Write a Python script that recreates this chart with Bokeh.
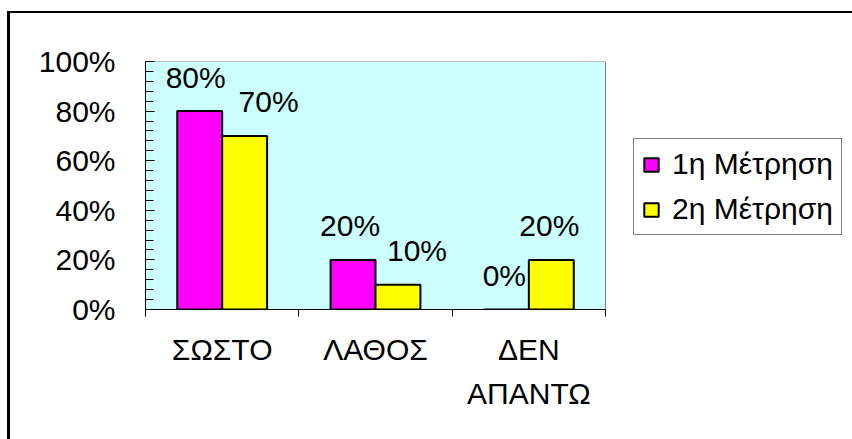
from bokeh.plotting import figure
from bokeh.models import (Range1d, LinearAxis, FixedTicker,
                          SingleIntervalTicker, NumeralTickFormatter, Legend, LegendItem,
                          ColumnDataSource, CustomJSTickFormatter, InlineStyleSheet)
from bokeh.core.properties import value
from bokeh.embed import file_html
from bokeh.resources import INLINE

# ---- data -------------------------------------------------------------
categories = ["ΣΩΣΤΟ", "ΛΑΘΟΣ", "ΔΕΝ ΑΠΑΝΤΩ"]
category_labels = ["ΣΩΣΤΟ", "ΛΑΘΟΣ", "ΔΕΝ\nΑΠΑΝΤΩ"]
series_names = ["1η Μέτρηση", "2η Μέτρηση"]
measure_1 = [0.80, 0.20, 0.00]
measure_2 = [0.70, 0.10, 0.20]

# ---- styling / layout ---------------------------------------------------
FONT = "Liberation Sans"
FS = "30px"
MAGENTA = "#FF00FF"
YELLOW = "#FFFF00"
PLOT_BG = "#CCFFFF"
BAR_W = 0.293
W, H = 852, 439
LEFT, TOP, BOTTOM = 145, 61, 130
PLOT_W = 460  # pixel width of the shaded plot area
# horizontal nudges (pixels) of the value labels above each bar
label_dx_1 = [-4, -3, -2]
label_dx_2 = [24, 19, -2]

n = len(categories)
# each category occupies one unit on the x scale; its centre is at i + 0.5
centres = [i + 0.5 for i in range(n)]
# the frame runs to the right edge so the legend can sit beside the plot area
x_end = n * (W - LEFT) / PLOT_W

src = ColumnDataSource(dict(
    x1=[c - BAR_W / 2 for c in centres],
    x2=[c + BAR_W / 2 for c in centres],
    m1=measure_1,
    m2=measure_2,
    t1=[f"{v:.0%}" for v in measure_1],
    t2=[f"{v:.0%}" for v in measure_2],
    dx1=label_dx_1,
    dx2=label_dx_2,
))

p = figure(width=W, height=H,
           x_range=Range1d(0, x_end),
           y_range=Range1d(0, 1),
           x_axis_location=None, y_axis_location=None,
           output_backend="svg", toolbar_location=None,
           min_border_left=LEFT, min_border_right=0,
           min_border_top=TOP, min_border_bottom=BOTTOM)
p.background_fill_color = "white"
p.border_fill_color = "white"
p.outline_line_color = None
p.grid.visible = False

# outer chart border: left and top edges (only on the figure's own element)
p.css_classes = ["chart-frame"]
p.stylesheets = [InlineStyleSheet(css="""
:host(.chart-frame)::before {
  content: ""; position: absolute; left: 7px; top: 11px; width: 3px; height: 428px;
  background: #000; pointer-events: none; z-index: 10;
}
:host(.chart-frame)::after {
  content: ""; position: absolute; left: 7px; top: 11px; width: 845px; height: 2px;
  background: #000; pointer-events: none; z-index: 10;
}
""")]

# shaded plot area
p.quad(left=0, right=n, bottom=0, top=1, fill_color=PLOT_BG,
       line_color="#808080", line_width=1)

# ---- y axis -------------------------------------------------------------
yaxis = LinearAxis(ticker=SingleIntervalTicker(interval=0.2, num_minor_ticks=5),
                   formatter=NumeralTickFormatter(format="0%"))
yaxis.axis_line_color = "black"
yaxis.major_tick_line_color = "black"
yaxis.minor_tick_line_color = "black"
yaxis.major_tick_in = 9
yaxis.major_tick_out = 0
yaxis.minor_tick_in = 8
yaxis.minor_tick_out = 0
yaxis.major_label_standoff = 30
yaxis.major_label_text_font = FONT
yaxis.major_label_text_font_size = FS
yaxis.major_label_text_color = "black"
p.add_layout(yaxis, "left")

# ---- x axis: boundary ticks + category labels -------------------------
edge_axis = LinearAxis(ticker=FixedTicker(ticks=list(range(n + 1))),
                       formatter=CustomJSTickFormatter(code="return ''"),
                       bounds=(0, n))
edge_axis.axis_line_color = "black"
edge_axis.major_tick_line_color = "black"
edge_axis.major_tick_in = 0
edge_axis.major_tick_out = 7
edge_axis.minor_tick_line_color = None
edge_axis.major_label_text_font_size = "1px"
edge_axis.major_label_standoff = 0
p.add_layout(edge_axis, "below")

cat_axis = LinearAxis(ticker=FixedTicker(ticks=centres, minor_ticks=[]))
cat_axis.axis_line_color = None
cat_axis.major_tick_line_color = None
cat_axis.minor_tick_line_color = None
cat_axis.major_tick_out = 0
cat_axis.major_tick_in = 0
cat_axis.major_label_standoff = 16
cat_axis.major_label_overrides = {c: lab for c, lab in zip(centres, category_labels)}
cat_axis.major_label_text_font = FONT
cat_axis.major_label_text_font_size = FS
cat_axis.major_label_text_color = "black"
cat_axis.major_label_text_line_height = 1.34
p.add_layout(cat_axis, "below")

# ---- bars ---------------------------------------------------------------
r1 = p.vbar(x="x1", top="m1", width=BAR_W,
            fill_color=MAGENTA, line_color="black", line_width=2, source=src)
r2 = p.vbar(x="x2", top="m2", width=BAR_W,
            fill_color=YELLOW, line_color="black", line_width=2, source=src)

# ---- value labels -------------------------------------------------------
for xf, yf, tf, dxf in [("x1", "m1", "t1", "dx1"), ("x2", "m2", "t2", "dx2")]:
    p.text(x=xf, y=yf, text=tf, source=src,
           x_offset=dxf, y_offset=-34, text_align="center", text_baseline="middle",
           text_font=value(FONT), text_font_size=value(FS), text_color="black")

# ---- legend -------------------------------------------------------------
legend = Legend(items=[LegendItem(label=series_names[0], renderers=[r1]),
                       LegendItem(label=series_names[1], renderers=[r2])],
                location=(PLOT_W + 28, 74))
legend.label_text_font = FONT
legend.label_text_font_size = FS
legend.label_text_color = "black"
legend.glyph_width = 18
legend.glyph_height = 17
legend.label_standoff = 12
legend.padding = 8
legend.spacing = 11
legend.margin = 0
legend.border_line_color = "black"
legend.border_line_width = 1
legend.background_fill_color = "white"
legend.background_fill_alpha = 1
p.add_layout(legend)

open("out.html", "w").write(file_html(p, INLINE))
